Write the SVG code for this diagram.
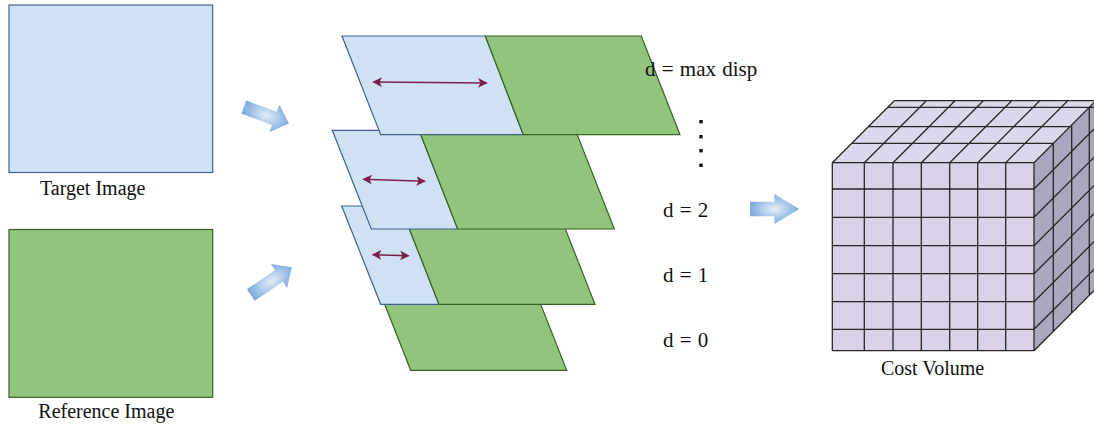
<svg xmlns="http://www.w3.org/2000/svg" width="1094" height="429" viewBox="0 0 1094 429">
  <style>
    .lbl { font-family: "Liberation Serif", "Times New Roman", serif; font-size: 20px; fill: #111; }
    .dlbl { font-family: "Liberation Serif", "Times New Roman", serif; font-size: 21px; fill: #111; word-spacing: 1px; }
    .tgt { fill: #cfe2f3; stroke: #3f6492; stroke-width: 1.2; }
    .ref { fill: #93c47d; stroke: #356421; stroke-width: 1.2; }
    .shift { stroke: #7a1f48; stroke-width: 1.6; fill: none; marker-start: url(#tipStart); marker-end: url(#tipEnd); }
    .block { fill: url(#blockFill); stroke: none; }
    .grid { stroke: #262626; stroke-width: 1.3; fill: none; }
  </style>
  <defs>
    <radialGradient id="blockFill" cx="0.5" cy="0.5" r="0.6">
      <stop offset="0" stop-color="#e4eef9"/>
      <stop offset="1" stop-color="#6a9fd9"/>
    </radialGradient>
    <marker id="tipEnd" viewBox="0 0 10 10" refX="9" refY="5" markerWidth="6" markerHeight="6" orient="auto" markerUnits="strokeWidth">
      <path d="M0,0 L10,5 L0,10 L2.5,5 Z" fill="#7a1f48"/>
    </marker>
    <marker id="tipStart" viewBox="0 0 10 10" refX="1" refY="5" markerWidth="6" markerHeight="6" orient="auto" markerUnits="strokeWidth">
      <path d="M10,0 L0,5 L10,10 L7.5,5 Z" fill="#7a1f48"/>
    </marker>
  </defs>

  <rect width="1094" height="429" fill="#ffffff"/>

  <!-- input images -->
  <g id="target-image">
    <rect class="tgt" x="9" y="5" width="203.7" height="167.5"/>
    <text class="lbl" x="40" y="195">Target Image</text>
  </g>
  <g id="reference-image">
    <rect class="ref" x="9" y="229.5" width="203.7" height="167.8"/>
    <text class="lbl" x="38.3" y="418">Reference Image</text>
  </g>

  <!-- shifted image pairs, bottom layer first -->
  <g id="layer-d0">
    <polygon class="ref" points="371.9,271.8 527.9,271.8 566.7,370.3 410.7,370.3"/>
  </g>
  <g id="layer-d1">
    <polygon class="tgt" points="341.7,206 400.3,206 439,304.3 380.7,304.3"/>
    <polygon class="ref" points="400.3,206 556.3,206 595,304.3 439,304.3"/>
    <line class="shift" x1="372.7" y1="254.7" x2="408.7" y2="255.7"/>
  </g>
  <g id="layer-d2">
    <polygon class="tgt" points="332.3,130.3 419,130.3 457.7,229 371.3,229"/>
    <polygon class="ref" points="419,130.3 575.5,130.3 614.3,229 457.7,229"/>
    <line class="shift" x1="363.3" y1="179.3" x2="425" y2="181.3"/>
  </g>
  <g id="layer-dmax">
    <polygon class="tgt" points="342,36 485.3,36 523.3,134.7 380.7,134.7"/>
    <polygon class="ref" points="485.3,36 641.3,36 680,134.7 523.3,134.7"/>
    <line class="shift" x1="373.3" y1="82" x2="486.7" y2="83"/>
  </g>

  <!-- disparity labels -->
  <g id="disparity-labels">
    <text class="dlbl" x="645" y="75.5">d = max disp</text>
    <g fill="#111">
      <rect x="699.3" y="120" width="3.4" height="3.4"/>
      <rect x="699.3" y="135" width="3.4" height="3.4"/>
      <rect x="699.3" y="149" width="3.4" height="3.4"/>
      <rect x="699.3" y="163.6" width="3.4" height="3.4"/>
    </g>
    <text class="dlbl" x="663" y="216.7">d = 2</text>
    <text class="dlbl" x="663" y="281.7">d = 1</text>
    <text class="dlbl" x="663" y="346.7">d = 0</text>
  </g>

  <!-- cost volume cube -->
  <g id="cost-volume">
    <polygon fill="#dcd8ec" points="832.3,162.7 1034,162.7 1096,100.7 894.3,100.7"/>
    <polygon fill="#aca7bf" points="1034,162.7 1096,100.7 1096,288.7 1034,350.7"/>
    <rect fill="#d9d2e9" x="832.3" y="162.7" width="201.7" height="188"/>
    <path class="grid" d="
      M832.3,162.7V350.7 M864.3,162.7V350.7 M893,162.7V350.7 M921.3,162.7V350.7
      M949.7,162.7V350.7 M977.7,162.7V350.7 M1005.7,162.7V350.7 M1034,162.7V350.7
      M832.3,162.7H1034 M832.3,189H1034 M832.3,217.3H1034 M832.3,245.7H1034
      M832.3,273.7H1034 M832.3,301.7H1034 M832.3,329.3H1034 M832.3,350.7H1034
      M832.3,162.7l62,-62 M864.3,162.7l62,-62 M893,162.7l62,-62 M921.3,162.7l62,-62
      M949.7,162.7l62,-62 M977.7,162.7l62,-62 M1005.7,162.7l62,-62 M1034,162.7l62,-62
      M851.7,143.3H1053.4 M868.3,126.7H1070 M887.7,107.3H1096 M894.3,100.7H1096
      M1034,189l62,-62 M1034,217.3l62,-62 M1034,245.7l62,-62 M1034,273.7l62,-62
      M1034,301.7l62,-62 M1034,329.3l62,-62 M1034,350.7l62,-62
      M1053.3,143.4V331.4 M1071.7,125V313 M1089.3,107.4V295.4"/>
    <text class="lbl" x="881" y="375">Cost Volume</text>
  </g>

  <!-- block arrows -->
  <g id="connectors">
    <path class="block" transform="translate(243.9,107.2) rotate(20)" d="M0,-7 H32.5 V-14.5 L48,0 L32.5,14.5 V7 H0 Z"/>
    <path class="block" transform="translate(250.8,295) rotate(-34)" d="M0,-7 H34 V-14.5 L49.5,0 L34,14.5 V7 H0 Z"/>
    <path class="block" transform="translate(750,209)" d="M0,-7.2 H24.3 V-15 L49.3,0 L24.3,15 V7.2 H0 Z"/>
  </g>
</svg>
